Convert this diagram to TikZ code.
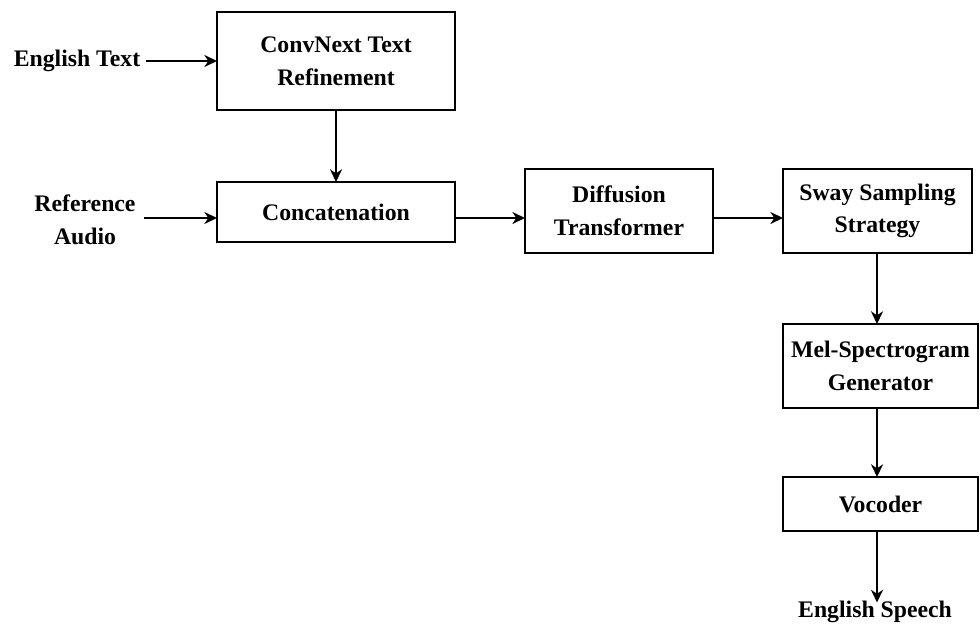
\documentclass[tikz,border=0pt]{standalone}
\usepackage{fontspec}
\setmainfont{Liberation Serif}
\usetikzlibrary{arrows.meta}
\begin{document}
\begin{tikzpicture}[x=0.75pt,y=-0.75pt,
  every node/.style={font=\bfseries\fontsize{17.8}{24.5}\selectfont, align=center, inner sep=0pt, outer sep=0pt},
  blockbox/.style={draw, line width=2.2pt, fill=white},
  flow/.style={line width=2.2pt, -{Stealth[length=9.5pt,width=9pt,inset=3pt]}}]
  \useasboundingbox (0,0) rectangle (980,624);

  % reference lines for the main row and the right-hand column
  \coordinate (row) at (0,218);
  \coordinate (col) at (877,0);

  % processing blocks
  \node[blockbox, minimum width=178.5pt, minimum height=73.5pt] (conv) at (336,61) {ConvNext Text\\Refinement};
  \node[blockbox, minimum width=178.5pt, minimum height=45pt] (concat) at (336,212) {Concatenation};
  \node[blockbox, minimum width=141pt, minimum height=63pt] (diff) at (619,211) {Diffusion\\Transformer};
  \node[blockbox, minimum width=141.75pt, minimum height=63pt] (sway) at (877.5,211) {Sway Sampling\\Strategy};
  \node[blockbox, minimum width=146.25pt, minimum height=63pt] (mel) at (880.5,366) {Mel-Spectrogram\\Generator};
  \node[blockbox, minimum width=146.25pt, minimum height=40.5pt] (voc) at (880.5,504) {Vocoder};

  % inputs and output
  \node (entext) at (77,61) {English Text};
  \node (refaudio) at (85,220) {Reference\\Audio};
  \node (speech) at (875,612) {English Speech};

  % connectors
  \draw[flow] (entext.east) ++(6,0) -- (conv.west);
  \draw[flow] (conv.south) -- (concat.north);
  \draw[flow] (refaudio.east |- row) ++(8,0) -- (concat.west |- row);
  \draw[flow] (concat.east |- row) -- (diff.west |- row);
  \draw[flow] (diff.east |- row) -- (sway.west |- row);
  \draw[flow] (sway.south -| col) -- (mel.north -| col);
  \draw[flow] (mel.south -| col) -- (voc.north -| col);
  \draw[flow] (voc.south -| col) -- ([yshift=-1pt]speech.north -| col);
\end{tikzpicture}
\end{document}
